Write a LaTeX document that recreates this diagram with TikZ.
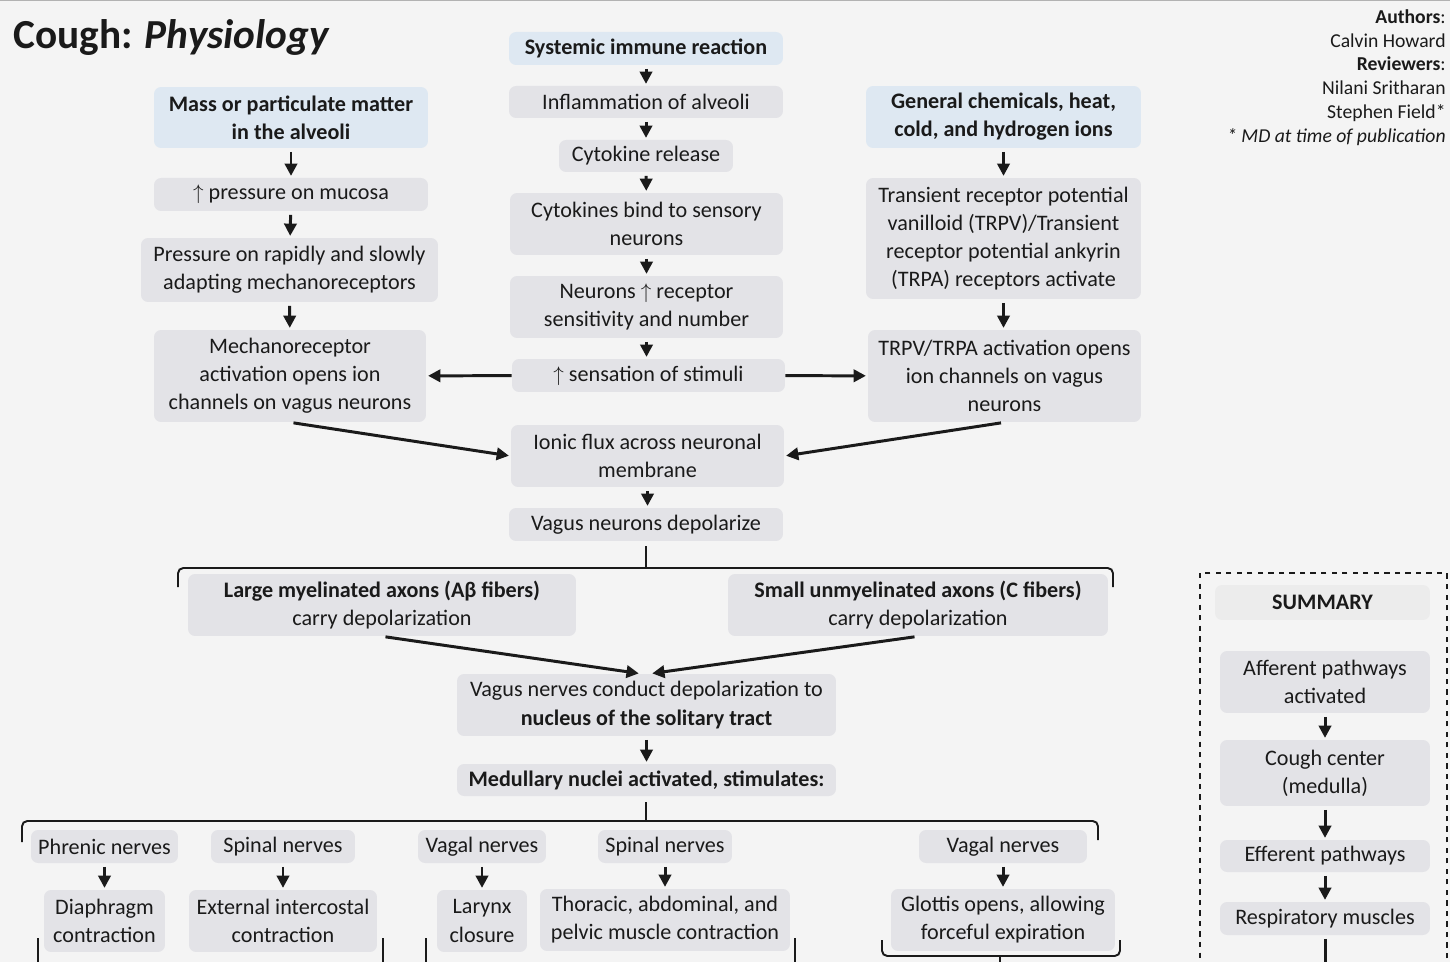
\documentclass[tikz,border=0pt]{standalone}
\usepackage{fontspec}
\setmainfont{Carlito}
\usetikzlibrary{arrows.meta}

\definecolor{pagebg}{HTML}{F4F4F4}
\definecolor{stepgray}{HTML}{E3E3E7}
\definecolor{srcblue}{HTML}{DEE8F2}
\definecolor{sumgray}{HTML}{ECECEC}
\definecolor{inkcol}{HTML}{1A1A1A}

\tikzset{
	stepbox/.style={fill=stepgray, rounded corners=4pt, align=center, inner sep=1pt,
		text=inkcol, font=\fontsize{12.6}{16}\selectfont},
	srcbox/.style={stepbox, fill=srcblue, font=\fontsize{12.6}{16}\selectfont\bfseries},
	flow/.style={-{Triangle[length=7pt,width=7pt]}, line width=1.7pt, inkcol,
		shorten >=1pt, shorten <=2pt},
	brk/.style={line width=1.1pt, inkcol, rounded corners=3pt},
}

\begin{document}
\begin{tikzpicture}[x=0.02cm, y=-0.02cm]
	\clip (0,0) rectangle (1450,962);
	\fill[pagebg] (0,0) rectangle (1450,962);
	\draw[gray!60, line width=1pt] (0,0.5) -- (1450,0.5);

	\node[anchor=west, text=inkcol, font=\fontsize{23.5}{26}\selectfont\bfseries] (title) at (7,38) {Cough: \textit{Physiology}};
	\node[anchor=north east, align=right, inner sep=0pt, text=inkcol, font=\fontsize{11.2}{13.6}\selectfont] (credits) at (1446,9)
		{\textbf{Authors}:\\Calvin Howard\\\textbf{Reviewers}:\\Nilani Sritharan\\Stephen Field*\\\textit{* MD at time of publication}};

	% left column
	\node[srcbox, minimum width=5.48cm, minimum height=1.22cm] (mass) at (291,117.5) {Mass or particulate matter\\in the alveoli};
	\node[stepbox, minimum width=5.48cm, minimum height=0.66cm] (mucosa) at (291,194.5) {$\uparrow$ pressure on mucosa};
	\node[stepbox, minimum width=5.94cm, minimum height=1.28cm] (rapid) at (289.5,270) {Pressure on rapidly and slowly\\adapting mechanoreceptors};
	\node[stepbox, minimum width=5.44cm, minimum height=1.84cm] (mechano) at (290,376) {Mechanoreceptor\\activation opens ion\\channels on vagus neurons};

	% middle column
	\node[srcbox, minimum width=5.48cm, minimum height=0.66cm] (immune) at (646,48.5) {Systemic immune reaction};
	\node[stepbox, minimum width=5.48cm, minimum height=0.64cm] (inflam) at (646,102) {Inflammation of alveoli};
	\node[stepbox, minimum width=3.48cm, minimum height=0.64cm] (cytorel) at (646,156) {Cytokine release};
	\node[stepbox, minimum width=5.46cm, minimum height=1.24cm] (cytobind) at (646.5,224) {Cytokines bind to sensory\\neurons};
	\node[stepbox, minimum width=5.46cm, minimum height=1.24cm] (receptor) at (646.5,307) {Neurons $\uparrow$ receptor\\sensitivity and number};
	\node[stepbox, minimum width=5.46cm, minimum height=0.66cm] (stimuli) at (648.5,375.5) {$\uparrow$ sensation of stimuli};
	\node[stepbox, minimum width=5.46cm, minimum height=1.24cm] (ionic) at (647.5,456) {Ionic flux across neuronal\\membrane};
	\node[stepbox, minimum width=5.48cm, minimum height=0.66cm] (depol) at (646,524.5) {Vagus neurons depolarize};

	% right column
	\node[srcbox, minimum width=5.5cm, minimum height=1.24cm] (chem) at (1003.5,117) {General chemicals, heat,\\cold, and hydrogen ions};
	\node[stepbox, minimum width=5.5cm, minimum height=2.42cm] (trp) at (1003.5,238.5) {Transient receptor potential\\vanilloid (TRPV)/Transient\\receptor potential ankyrin\\(TRPA) receptors activate};
	\node[stepbox, minimum width=5.46cm, minimum height=1.84cm] (trpopen) at (1004.5,376) {TRPV/TRPA activation opens\\ion channels on vagus\\neurons};

	% fibers and medulla
	\node[stepbox, minimum width=7.76cm, minimum height=1.24cm] (large) at (382,605) {\textbf{Large myelinated axons (Aβ fibers)}\\carry depolarization};
	\node[stepbox, minimum width=7.6cm, minimum height=1.24cm] (small) at (918,605) {\textbf{Small unmyelinated axons (C fibers)}\\carry depolarization};
	\node[stepbox, minimum width=7.58cm, minimum height=1.24cm] (solitary) at (646.5,705) {Vagus nerves conduct depolarization to\\\textbf{nucleus of the solitary tract}};
	\node[srcbox, fill=stepgray, minimum width=7.58cm, minimum height=0.64cm] (medulla) at (646.5,780) {Medullary nuclei activated, stimulates:};

	% efferent nerves
	\node[stepbox, minimum width=2.94cm, minimum height=0.66cm] (phrenic) at (104.5,846.5) {Phrenic nerves};
	\node[stepbox, minimum width=2.88cm, minimum height=0.66cm] (spinalA) at (283,846.5) {Spinal nerves};
	\node[stepbox, minimum width=2.56cm, minimum height=0.66cm] (vagalA) at (482,846.5) {Vagal nerves};
	\node[stepbox, minimum width=2.68cm, minimum height=0.66cm] (spinalB) at (665,846.5) {Spinal nerves};
	\node[stepbox, minimum width=3.36cm, minimum height=0.66cm] (vagalB) at (1003,846.5) {Vagal nerves};
	\node[stepbox, minimum width=2.42cm, minimum height=1.24cm] (diaphragm) at (104.5,921) {Diaphragm\\contraction};
	\node[stepbox, minimum width=3.76cm, minimum height=1.24cm] (intercostal) at (283,921) {External intercostal\\contraction};
	\node[stepbox, minimum width=1.8cm, minimum height=1.24cm] (larynx) at (482,921) {Larynx\\closure};
	\node[stepbox, minimum width=5.0cm, minimum height=1.24cm] (thoracic) at (665,920) {Thoracic, abdominal, and\\pelvic muscle contraction};
	\node[stepbox, minimum width=4.48cm, minimum height=1.24cm] (glottis) at (1003,920) {Glottis opens, allowing\\forceful expiration};

	% summary
	\draw[inkcol, line width=0.8pt, dashed] (1200,573) rectangle (1447,990);
	\node[srcbox, fill=sumgray, minimum width=4.3cm, minimum height=0.7cm] (sumhead) at (1322.5,602.5) {SUMMARY};
	\node[stepbox, minimum width=4.2cm, minimum height=1.24cm] (afferent) at (1325,682) {Afferent pathways\\activated};
	\node[stepbox, minimum width=4.2cm, minimum height=1.32cm] (center) at (1325,773) {Cough center\\(medulla)};
	\node[stepbox, minimum width=4.2cm, minimum height=0.64cm] (efferent) at (1325,856) {Efferent pathways};
	\node[stepbox, minimum width=4.2cm, minimum height=0.66cm] (muscles) at (1325,918.5) {Respiratory muscles};
	\coordinate (sumend) at (1325,985);

	% vertical steps
	\draw[flow] (mass) -- (mucosa);
	\draw[flow] (mucosa) -- (rapid);
	\draw[flow] (rapid) -- (mechano);
	\draw[flow] (immune) -- (inflam);
	\draw[flow] (inflam) -- (cytorel);
	\draw[flow] (cytorel) -- (cytobind);
	\draw[flow] (cytobind) -- (receptor);
	\draw[flow] (receptor.south) -- (receptor.south |- stimuli.north);
	\draw[flow] (ionic.south) -- (ionic.south |- depol.north);
	\draw[flow] (chem) -- (trp);
	\draw[flow] (trp.south) -- (trp.south |- trpopen.north);
	\draw[flow] (solitary) -- (medulla);
	\draw[flow] (phrenic) -- (diaphragm);
	\draw[flow] (spinalA) -- (intercostal);
	\draw[flow] (vagalA) -- (larynx);
	\draw[flow] (spinalB) -- (thoracic);
	\draw[flow] (vagalB) -- (glottis);
	\draw[flow] (afferent) -- (center);
	\draw[flow] (center) -- (efferent);
	\draw[flow] (efferent) -- (muscles);
	\draw[line width=1.7pt, inkcol, shorten <=2pt] (muscles) -- (sumend);

	% sideways and converging
	\draw[flow, shorten <=0pt] (stimuli) -- (mechano);
	\draw[flow, shorten <=0pt] (stimuli) -- (trpopen);
	\draw[flow] (mechano.south) -- (ionic.west);
	\draw[flow] (trpopen.south) -- (ionic.east);
	\draw[flow] (large.south) -- ([xshift=-0.12cm]solitary.north);
	\draw[flow] (small.south) -- ([xshift=0.08cm]solitary.north);

	% brackets
	\coordinate (brA) at (646,568);
	\draw[brk] (178,587) -- (178,568) -- (1113,568) -- (1113,587);
	\draw[brk] (brA) -- ++(0,-22);
	\coordinate (brB) at (646,821);
	\draw[brk] (22,842) -- (22,821) -- (1098,821) -- (1098,840);
	\draw[brk] (brB) -- ++(0,-19);
	\draw[brk] (38,938) -- (38,975) -- (383,975) -- (383,938);
	\draw[brk] (426,938) -- (426,975) -- (795,975) -- (795,938);
	\coordinate (brC) at (1000,956);
	\draw[brk] (882,940) -- (882,956) -- (1120,956) -- (1120,940);
	\draw[brk] (brC) -- ++(0,25);
\end{tikzpicture}
\end{document}
